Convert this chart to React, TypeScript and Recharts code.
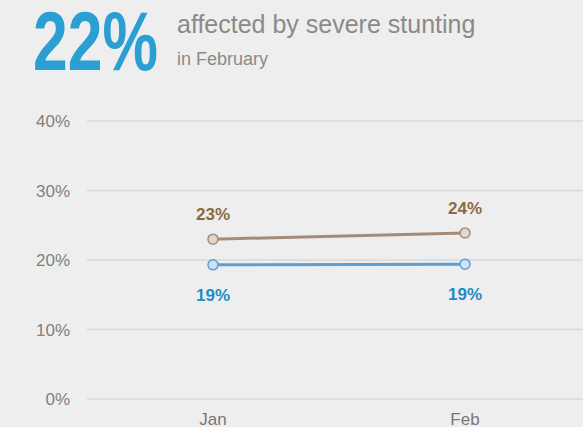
import { LineChart, Line, XAxis, YAxis, CartesianGrid, LabelList } from "recharts";

const months = ["Jan", "Feb"];
const brownSeries = [23.0, 23.9];
const blueSeries = [19.3, 19.4];
const yTicks = [0, 10, 20, 30, 40];

const data = months.map((m, i) => ({ month: m, brown: brownSeries[i], blue: blueSeries[i] }));

const pct = (v: number) => `${Math.round(v)}%`;

export default function App() {
  return (
    <div
      style={{
        position: "absolute",
        left: 0,
        top: 0,
        width: 583,
        height: 427,
        overflow: "hidden",
        background: "#eeeeee",
        fontFamily: "'Liberation Sans', Arial, sans-serif",
      }}
    >
      <svg width={583} height={100} style={{ position: "absolute", left: 0, top: 0 }}>
        <text
          x={33}
          y={70}
          fontSize={84}
          fontWeight="bold"
          fill="#2a9fd2"
          textLength={125}
          lengthAdjust="spacingAndGlyphs"
        >
          22%
        </text>
        <text x={177} y={33} fontSize={25} fill="#8a8a8a">
          affected by severe stunting
        </text>
        <text x={177} y={65} fontSize={18} fill="#8a8a8a">
          in February
        </text>
      </svg>
      <div style={{ position: "absolute", left: 0, top: 0 }}>
        <LineChart
          width={600}
          height={440}
          data={data}
          margin={{ top: 121, right: 9, left: 0, bottom: 11 }}
        >
          <CartesianGrid vertical={false} stroke="#d8d8d8" strokeWidth={1.5} />
          <XAxis
            dataKey="month"
            scale="band"
            axisLine={false}
            tickLine={false}
            height={30}
            tickMargin={8}
            tick={{ fill: "#777777", fontSize: 17 }}
          />
          <YAxis
            domain={[0, 40]}
            ticks={yTicks}
            tickFormatter={(v) => `${v}%`}
            axisLine={false}
            tickLine={false}
            width={87}
            tickMargin={11}
            tick={{ fill: "#808080", fontSize: 17 }}
          />
          <Line
            dataKey="brown"
            stroke="#a48c7c"
            strokeWidth={3}
            dot={{ r: 5, fill: "#e6d6ca", stroke: "#a48c7c", strokeWidth: 1.5 }}
            isAnimationActive={false}
          >
            <LabelList
              dataKey="brown"
              position="top"
              offset={19}
              formatter={pct}
              fill="#8a6a40"
              fontSize={17}
              fontWeight="bold"
            />
          </Line>
          <Line
            dataKey="blue"
            stroke="#5a9fd6"
            strokeWidth={3}
            dot={{ r: 5, fill: "#cfe1f6", stroke: "#5a9fd6", strokeWidth: 1.5 }}
            isAnimationActive={false}
          >
            <LabelList
              dataKey="blue"
              position="bottom"
              offset={24}
              formatter={pct}
              fill="#1f8cc6"
              fontSize={17}
              fontWeight="bold"
            />
          </Line>
        </LineChart>
      </div>
    </div>
  );
}
